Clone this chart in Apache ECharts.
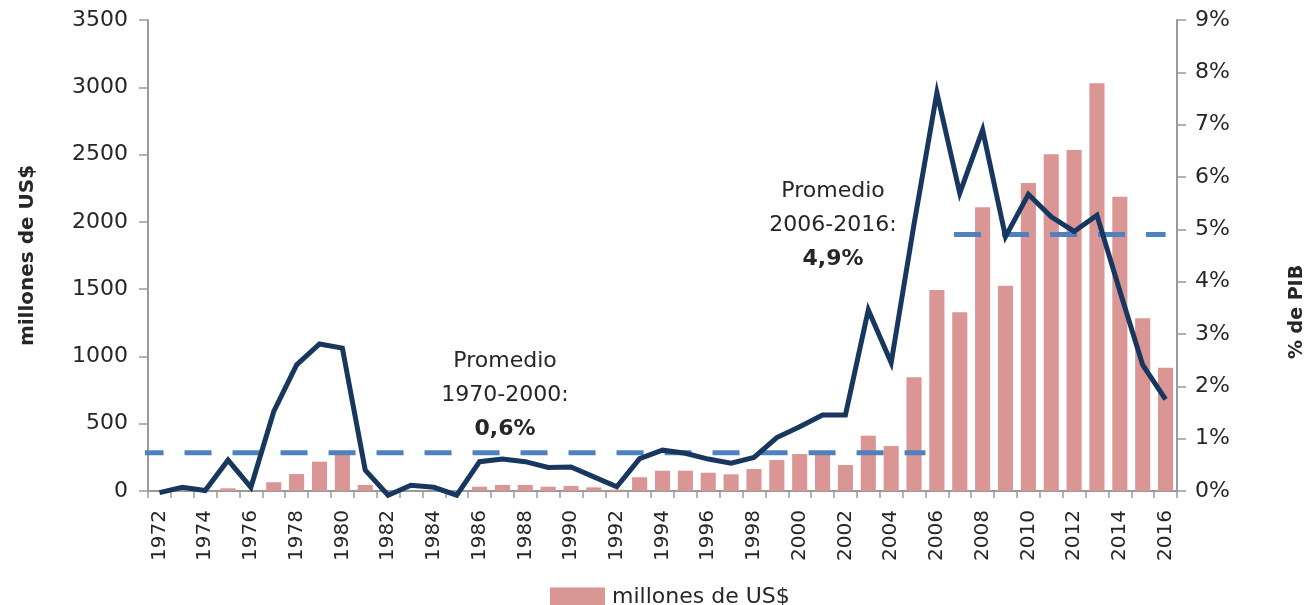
<!DOCTYPE html>
<html>
<head>
<meta charset="utf-8">
<script src="https://cdn.jsdelivr.net/npm/echarts@6/dist/echarts.min.js"></script>
<style>
  html, body { margin: 0; padding: 0; background: #fff; }
  #chartBox { width: 1308px; height: 605px; }
</style>
</head>
<body>
<div id="chartBox"></div>
<script>
// years on the x axis
const years = [];
for (let y = 1972; y <= 2016; y++) years.push(String(y));

// millones de US$ (bars, left axis)
const millones = [0, 0, 0, 20, 0, 65, 126, 218, 292, 45,
  0, 0, 0, 0, 32, 45, 45, 32, 37, 27,
  10, 102, 151, 151, 136, 124, 163, 230, 275, 285,
  193, 411, 334, 845, 1494, 1328, 2108, 1526, 2289, 2502,
  2534, 3030, 2187, 1283, 916];

// % de PIB (line, right axis)
const pctPib = [-0.03, 0.07, 0.01, 0.59, 0.07, 1.52, 2.41, 2.81, 2.73, 0.40,
  -0.08, 0.11, 0.07, -0.08, 0.56, 0.61, 0.56, 0.45, 0.46, 0.27,
  0.08, 0.62, 0.78, 0.72, 0.61, 0.53, 0.64, 1.02, 1.23, 1.45,
  1.45, 3.46, 2.45, 5.1, 7.61, 5.69, 6.90, 4.86, 5.67, 5.24,
  4.96, 5.27, 3.82, 2.41, 1.75];

// average periods: span on the year scale, level in % de PIB
const avg1Span = [1971, 2005.5];
const avg1Value = 0.73;
const avg2Span = [2006.75, 2016];
const avg2Value = 4.9;

const leftTicks = { min: 0, max: 3500, interval: 500 };
const rightTicks = { min: 0, max: 9, interval: 1 };

const note1 = ['Promedio', '1970-2000:', '0,6%'];
const note2 = ['Promedio', '2006-2016:', '4,9%'];
const rightName = '% de PIB';

const FONT = 'DejaVu Sans';
const TXT = '#262626';
const AXIS = '#9a9a9a';

const Chart = echarts.init(document.getElementById('chartBox'));

function noteText(lines) {
  return lines[0] + '\n' + lines[1] + '\n{b|' + lines[2] + '}';
}

let option = {
  animation: false,
  textStyle: { fontFamily: FONT },
  grid: { left: 148, right: 131, top: 20, bottom: 114, containLabel: false },
  legend: {
    left: 545, top: 581,
    itemWidth: 55, itemHeight: 19, itemGap: 10,
    icon: 'rect',
    data: ['millones de US$'],
    textStyle: { fontFamily: FONT, fontSize: 22, color: TXT, padding: [0, 0, 0, 2] }
  },
  xAxis: [{
    type: 'category',
    data: years,
    boundaryGap: true,
    axisLine: { lineStyle: { color: AXIS, width: 2 } },
    axisTick: { show: true, interval: 0, length: 7, lineStyle: { color: AXIS, width: 1.5 } },
    axisLabel: { interval: 1, rotate: 90, margin: 19, fontSize: 20, color: TXT, fontFamily: FONT }
  }, {
    type: 'value',
    min: 1971.5, max: 2016.5,
    show: false
  }],
  yAxis: [{
    type: 'value',
    min: leftTicks.min, max: leftTicks.max, interval: leftTicks.interval,
    name: 'millones de US$',
    nameLocation: 'middle',
    nameGap: 110,
    nameTextStyle: { fontSize: 20, fontWeight: 'bold', color: TXT, fontFamily: FONT },
    axisLine: { show: true, lineStyle: { color: AXIS, width: 2 } },
    axisTick: { show: true, length: 9, lineStyle: { color: AXIS, width: 1.5 } },
    axisLabel: { fontSize: 22, color: TXT, margin: 20, fontFamily: FONT, formatter: v => String(v) },
    splitLine: { show: false }
  }, {
    type: 'value',
    position: 'right',
    min: rightTicks.min, max: rightTicks.max, interval: rightTicks.interval,
    axisLine: { show: true, lineStyle: { color: AXIS, width: 2 } },
    axisTick: { show: true, length: 9, lineStyle: { color: AXIS, width: 1.5 } },
    axisLabel: { fontSize: 22, color: TXT, margin: 18, fontFamily: FONT, formatter: '{value}%' },
    splitLine: { show: false }
  }],
  series: [{
    name: 'millones de US$',
    type: 'bar',
    data: millones,
    barCategoryGap: '34%',
    itemStyle: { color: '#d99694' },
    z: 2
  }, {
    name: 'prom1',
    type: 'line',
    xAxisIndex: 1, yAxisIndex: 1,
    data: avg1Span.map(x => [x, avg1Value]),
    showSymbol: false, clip: false,
    lineStyle: { color: '#4f81bd', width: 5, type: [27, 21], cap: 'butt' },
    z: 3
  }, {
    name: 'prom2',
    type: 'line',
    xAxisIndex: 1, yAxisIndex: 1,
    data: avg2Span.map(x => [x, avg2Value]),
    showSymbol: false, clip: false,
    lineStyle: { color: '#4f81bd', width: 5, type: [27, 21], cap: 'butt' },
    z: 3
  }, {
    name: '% de PIB',
    type: 'line',
    yAxisIndex: 1,
    data: pctPib,
    showSymbol: false,
    clip: false,
    lineStyle: { color: '#17375e', width: 5, join: 'miter' },
    z: 4
  }],
  graphic: [{
    type: 'text',
    x: 505, y: 344,
    style: {
      text: noteText(note1),
      align: 'center',
      font: '22px "DejaVu Sans"',
      fill: TXT,
      lineHeight: 34,
      rich: { b: { fontWeight: 'bold', fontSize: 22, fontFamily: FONT, lineHeight: 34, fill: TXT } }
    }
  }, {
    type: 'text',
    x: 833, y: 174,
    style: {
      text: noteText(note2),
      align: 'center',
      font: '22px "DejaVu Sans"',
      fill: TXT,
      lineHeight: 34,
      rich: { b: { fontWeight: 'bold', fontSize: 22, fontFamily: FONT, lineHeight: 34, fill: TXT } }
    }
  }, {
    // right axis title sits lower than the axis middle in the original
    type: 'text',
    x: 1297, y: 312,
    rotation: Math.PI / 2,
    style: {
      text: rightName,
      align: 'center',
      verticalAlign: 'middle',
      font: 'bold 19px "DejaVu Sans"',
      fill: TXT
    }
  }]
};

Chart.setOption(option);
</script>
</body>
</html>
